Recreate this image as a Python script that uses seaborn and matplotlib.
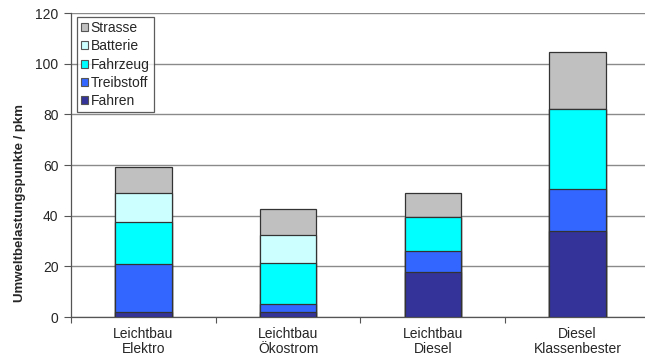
import numpy as np
import pandas as pd
import matplotlib
matplotlib.use("Agg")
import matplotlib.pyplot as plt
from matplotlib.patches import Patch
import seaborn as sns

# Vehicle variants (two-line axis labels)
categories = ["Leichtbau\nElektro", "Leichtbau\nÖkostrom", "Leichtbau\nDiesel", "Diesel\nKlassenbester"]

# Environmental impact points per passenger-km, by contribution
fahren = [2.0, 2.0, 17.6, 34.1]
treibstoff = [19.0, 3.0, 8.6, 16.3]
fahrzeug = [16.5, 16.3, 13.3, 31.6]
batterie = [11.4, 11.2, 0.0, 0.0]
strasse = [10.3, 10.1, 9.5, 22.5]

series_names = ["Fahren", "Treibstoff", "Fahrzeug", "Batterie", "Strasse"]
series_values = [fahren, treibstoff, fahrzeug, batterie, strasse]
colors = ["#333399", "#3366FF", "#00FFFF", "#CCFFFF", "#C0C0C0"]

y_ticks = [0, 20, 40, 60, 80, 100, 120]

sns.set_theme(style="white")
plt.rcParams["font.family"] = ["Liberation Sans", "DejaVu Sans"]
plt.rcParams["font.size"] = 10

df = pd.DataFrame({"Variante": categories})
cum = np.zeros(len(categories))
for name, vals in zip(series_names, series_values):
    cum = cum + np.array(vals)
    df[name] = cum.copy()

fig = plt.figure(figsize=(6.45, 3.58), dpi=100)
ax = fig.add_axes([0.110, 0.1145, 0.8977, 0.849])

# Stacked bars: cumulative totals drawn from the top segment downwards
for name, color in reversed(list(zip(series_names, colors))):
    sns.barplot(data=df, x="Variante", y=name, color=color, width=0.39,
                edgecolor="#333333", linewidth=0.9, saturation=1, ax=ax,
                zorder=3)

ax.set_ylim(0, 120)
ax.set_xlim(-0.5, 3.5)
ax.set_yticks(y_ticks)
ax.set_yticklabels([str(t) for t in y_ticks], fontsize=10)
ax.yaxis.grid(True, color="#8a8a8a", linewidth=1.0, zorder=0)
ax.set_axisbelow(True)

# Tick marks between categories, labels centred under the bars
ax.set_xticks([-0.5, 0.5, 1.5, 2.5, 3.5])
ax.set_xticklabels([""] * 5)
ax.set_xticks(range(len(categories)), minor=True)
ax.set_xticklabels(categories, minor=True, fontsize=10, linespacing=1.15)
ax.tick_params(axis="x", which="major", direction="out", length=4,
               width=0.8, color="#555555", bottom=True)
ax.tick_params(axis="x", which="minor", length=0, pad=7)
ax.tick_params(axis="y", direction="out", length=5, width=0.8,
               color="#555555", left=True, pad=4)

ax.set_xlabel("")
ax.set_ylabel("Umweltbelastungspunkte / pkm", fontsize=9.5, fontweight="bold")
ax.yaxis.set_label_coords(-0.078, 0.375)

for side in ["top", "right"]:
    ax.spines[side].set_visible(False)
ax.spines["left"].set_color("#555555")
ax.spines["bottom"].set_color("#555555")
ax.spines["left"].set_linewidth(0.9)
ax.spines["bottom"].set_linewidth(0.9)

handles = [Patch(facecolor=c, edgecolor="#555555", linewidth=0.8, label=n)
           for n, c in zip(series_names, colors)]
handles = handles[::-1]
leg = ax.legend(handles=handles, loc="upper left",
                bbox_to_anchor=(0.01, 0.987), fontsize=10,
                handlelength=0.5, handleheight=0.5, handletextpad=0.2,
                labelspacing=0.3, borderpad=0.3, borderaxespad=0,
                frameon=True, fancybox=False)
leg.get_frame().set_edgecolor("#333333")
leg.get_frame().set_linewidth(0.9)
leg.set_zorder(5)

fig.savefig("out.png", dpi=100)
